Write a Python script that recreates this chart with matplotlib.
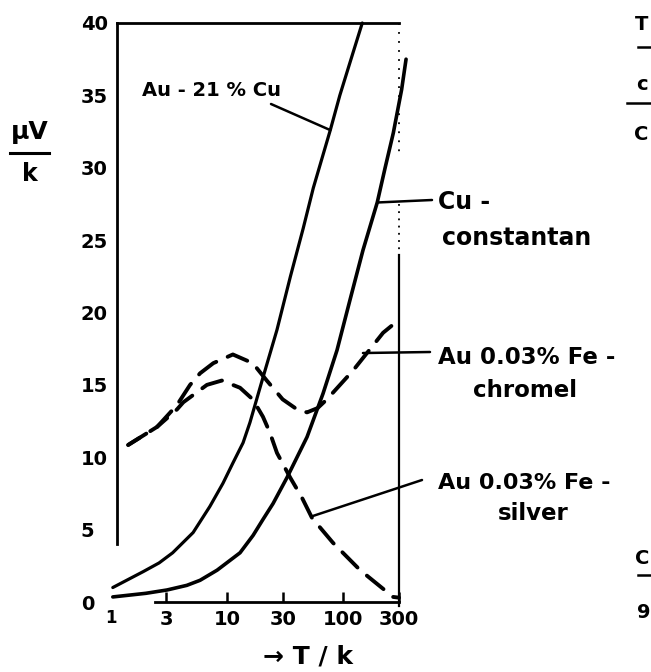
import matplotlib
matplotlib.use("Agg")
import matplotlib.pyplot as plt
from matplotlib.ticker import NullLocator, FixedLocator, FixedFormatter

# ---------------- data ----------------
au_cu_T = [1.04, 1.9, 2.6, 3.4, 5.1, 7.1, 9.2, 11.2, 13.7, 15.7, 20.3, 26.8, 35, 45, 55, 77, 93, 114, 145]
au_cu_v = [1.0, 2.1, 2.7, 3.4, 4.8, 6.6, 8.2, 9.6, 11.0, 12.4, 15.5, 18.8, 22.5, 25.8, 28.6, 32.6, 35.0, 37.3, 40.0]

cu_con_T = [1.04, 2.0, 3.04, 4.5, 5.85, 8.2, 12.9, 16.7, 20.3, 24.8, 32.7, 48.6, 66.7, 88, 114, 147, 195, 228, 268, 316, 345]
cu_con_v = [0.35, 0.6, 0.83, 1.15, 1.5, 2.2, 3.4, 4.6, 5.7, 6.8, 8.6, 11.4, 14.4, 17.4, 20.9, 24.3, 27.6, 30.0, 32.4, 35.4, 37.5]

chromel_T = [1.41, 2.5, 3.7, 4.8, 5.85, 7.6, 11.2, 16.6, 21.9, 30, 40, 48.6, 60, 72, 121, 219, 300]
chromel_v = [10.85, 12.1, 13.6, 15.0, 15.8, 16.5, 17.1, 16.5, 15.3, 14.0, 13.3, 13.1, 13.4, 14.0, 16.0, 18.6, 19.5]

silver_T = [1.41, 2.5, 3.7, 4.2, 6.7, 9.0, 12.9, 16.6, 20.3, 23.3, 26.8, 34.8, 44, 53.7, 81, 139, 267, 300]
silver_v = [10.85, 12.1, 13.3, 13.8, 15.0, 15.3, 14.8, 14.0, 12.8, 11.7, 10.3, 8.6, 7.2, 5.8, 4.1, 2.2, 0.35, 0.3]

y_ticks = [0, 5, 10, 15, 20, 25, 30, 35, 40]
x_ticks = [3, 10, 30, 100, 300]
x_tick_labels = ["3", "10", "30", "100", "300"]

W, H = 651, 672
FONT = "DejaVu Sans"


def fx(px):
    return px / W


def fy(py):
    return 1 - py / H


fig = plt.figure(figsize=(W / 100, H / 100), dpi=100)
fig.patch.set_facecolor("white")
ax = fig.add_axes([fx(117), fy(602), (399 - 117) / W, (602 - 23) / H])
ax.set_xscale("log")
ax.set_xlim(1.13, 300)
ax.set_ylim(0, 40)
ax.set_facecolor("white")

# ---------------- curves ----------------
ax.plot(au_cu_T, au_cu_v, color="black", lw=2.3, solid_capstyle="round",
        solid_joinstyle="round", clip_on=False)
ax.plot(cu_con_T, cu_con_v, color="black", lw=2.6, solid_capstyle="round",
        solid_joinstyle="round", clip_on=False)
ax.plot(chromel_T, chromel_v, color="black", lw=2.8, ls=(0, (5.5, 3.2)),
        dash_capstyle="round", clip_on=False)
ax.plot(silver_T, silver_v, color="black", lw=2.8, ls=(2, (5.5, 3.2)),
        dash_capstyle="round", clip_on=False)

# ---------------- frame ----------------
for s in ["left", "top", "bottom"]:
    ax.spines[s].set_linewidth(2.0)
ax.spines["left"].set_bounds(4, 40)
ax.spines["bottom"].set_bounds(2.4, 300)
ax.spines["right"].set_visible(False)
ax.plot([300, 300], [40, 31], color="black", lw=1.3, ls=(0, (1, 4)), clip_on=False)
ax.plot([300, 300], [27.5, 24], color="black", lw=1.3, ls=(0, (1, 3)), clip_on=False)
ax.plot([300, 300], [24, -0.3], color="black", lw=1.6, clip_on=False)

# ---------------- ticks ----------------
ax.yaxis.set_major_locator(FixedLocator(y_ticks))
ax.yaxis.set_major_formatter(FixedFormatter([str(v) for v in y_ticks]))
ax.tick_params(axis="y", length=0, pad=26, labelsize=14)
for lab in ax.get_yticklabels():
    lab.set_ha("left")
    lab.set_fontweight("bold")
    lab.set_fontfamily(FONT)

ax.xaxis.set_major_locator(FixedLocator(x_ticks))
ax.xaxis.set_major_formatter(FixedFormatter(x_tick_labels))
ax.xaxis.set_minor_locator(NullLocator())
ax.tick_params(axis="x", direction="in", length=7, width=1.8, pad=6, labelsize=14)
for lab in ax.get_xticklabels():
    lab.set_fontweight("bold")
    lab.set_fontfamily(FONT)
ax.text(1.0, -0.012, "1", transform=ax.get_xaxis_transform(), fontsize=12,
        fontweight="bold", ha="center", va="top", family=FONT)

# ---------------- annotations ----------------
def leader(T, v, px, py):
    ax.annotate("", xy=(T, v), xycoords="data",
                xytext=(fx(px), fy(py)), textcoords="figure fraction",
                arrowprops=dict(arrowstyle="-", lw=1.8, color="black",
                                shrinkA=0, shrinkB=0))


leader(au_cu_T[15], au_cu_v[15], 271, 104)
leader(cu_con_T[16], cu_con_v[16], 432, 200)
leader(147, 17.2, 430, 352)
leader(52.6, 5.9, 422, 480)

tk = dict(fontweight="bold", family=FONT, color="black", va="center")
fig.text(fx(212), fy(90), "Au - 21 % Cu", ha="center", fontsize=14, **tk)
fig.text(fx(438), fy(202), "Cu -", ha="left", fontsize=17, **tk)
fig.text(fx(442), fy(238), "constantan", ha="left", fontsize=17, **tk)
fig.text(fx(438), fy(358), "Au 0.03% Fe -", ha="left", fontsize=16.5, **tk)
fig.text(fx(473), fy(390), "chromel", ha="left", fontsize=16.5, **tk)
fig.text(fx(438), fy(483), "Au 0.03% Fe -", ha="left", fontsize=16, **tk)
fig.text(fx(498), fy(513), "silver", ha="left", fontsize=16.5, **tk)

# axis labels
fig.text(fx(263), fy(656), "\u2192 T / k", ha="left", fontsize=18, **tk)
fig.text(fx(30), fy(132), "\u03bcV", ha="center", fontsize=18, **tk)
fig.add_artist(plt.Line2D([fx(10), fx(49)], [fy(153), fy(153)], color="black", lw=2.2))
fig.text(fx(30), fy(174), "k", ha="center", fontsize=17, **tk)

# fragments of the neighbouring figure at the right edge
fig.text(fx(635), fy(24), "T", ha="left", fontsize=14, **tk)
fig.add_artist(plt.Line2D([fx(638), fx(651)], [fy(47), fy(47)], color="black", lw=1.8))
fig.text(fx(636), fy(85), "c", ha="left", fontsize=14, **tk)
fig.add_artist(plt.Line2D([fx(627), fx(651)], [fy(103), fy(103)], color="black", lw=1.8))
fig.text(fx(634), fy(135), "C", ha="left", fontsize=14, **tk)
fig.text(fx(635), fy(558), "C", ha="left", fontsize=14, **tk)
fig.add_artist(plt.Line2D([fx(638), fx(651)], [fy(575), fy(575)], color="black", lw=1.8))
fig.text(fx(637), fy(612), "9", ha="left", fontsize=14, **tk)

fig.savefig("out.png", dpi=100, facecolor="white")
